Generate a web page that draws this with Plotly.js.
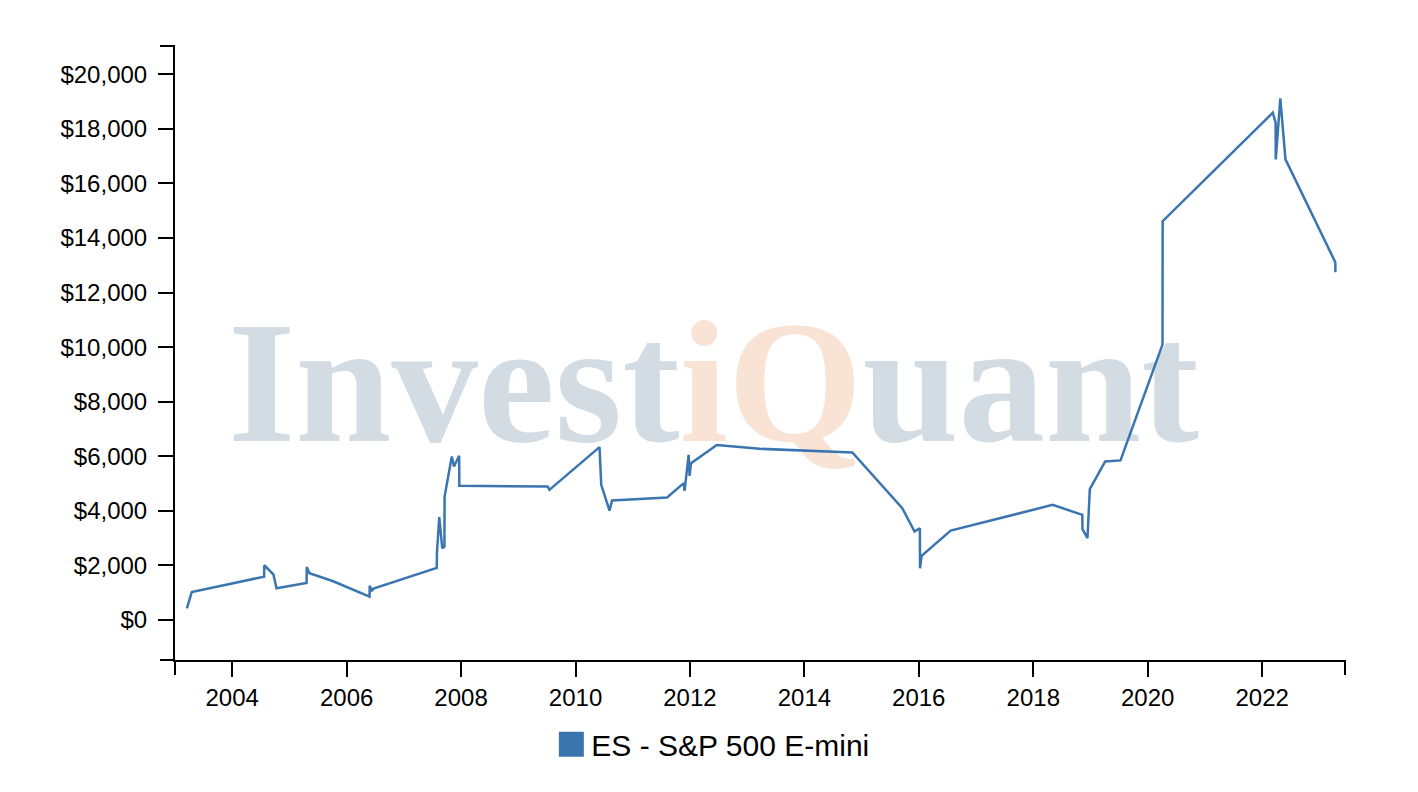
<!DOCTYPE html>
<html>
<head>
<meta charset="utf-8">
<script src="https://cdn.plot.ly/plotly-3.0.1.min.js"></script>
<style>
  html, body { margin: 0; padding: 0; background: #fff; }
  #chart { width: 1418px; height: 792px; }
</style>
</head>
<body>
<div id="chart"></div>
<script>
const seriesName = "ES - S&P 500 E-mini";

const dates = [
  "2003-03-18", "2003-04-18", "2004-07-23", "2004-07-24", "2004-09-20", "2004-10-10",
  "2005-04-20", "2005-04-21", "2005-05-08", "2005-10-03", "2006-05-27", "2006-05-28",
  "2006-06-10", "2006-06-21", "2007-07-30", "2007-07-31", "2007-08-15", "2007-09-03",
  "2007-09-17", "2007-09-18", "2007-11-03", "2007-11-17", "2007-12-20", "2007-12-21",
  "2009-07-07", "2009-07-18", "2010-06-03", "2010-06-14", "2010-08-06", "2010-08-22",
  "2011-08-08", "2011-11-23", "2011-11-28", "2011-12-24", "2011-12-30", "2012-01-08",
  "2012-06-21", "2013-03-21", "2014-11-03", "2015-09-18", "2015-12-05", "2016-01-08",
  "2016-01-09", "2016-01-19", "2016-07-23", "2018-05-05", "2018-11-10", "2018-11-11",
  "2018-12-13", "2018-12-28", "2019-04-05", "2019-07-12", "2020-04-05", "2020-04-06",
  "2022-03-10", "2022-03-28", "2022-03-29", "2022-04-27", "2022-05-30", "2023-04-13",
  "2023-04-14"
];

const equity = [
  430, 1028, 1589, 2007, 1677, 1163,
  1358, 1945, 1713, 1431, 855, 1259,
  1064, 1149, 1908, 2448, 3769, 2631,
  2690, 4525, 5993, 5626, 6019, 4918,
  4892, 4771, 6338, 4955, 4011, 4378,
  4488, 5017, 4734, 6055, 5285, 5750,
  6411, 6276, 6140, 4099, 3241, 3365,
  1897, 2349, 3277, 4221, 3854, 3328,
  2998, 4796, 5810, 5850, 10093, 14618,
  18596, 18229, 16882, 19121, 16882, 13113,
  12746
];

const yTickValues = [0, 2000, 4000, 6000, 8000, 10000, 12000, 14000, 16000, 18000, 20000];
const yTickLabels = ["$0", "$2,000", "$4,000", "$6,000", "$8,000", "$10,000",
                     "$12,000", "$14,000", "$16,000", "$18,000", "$20,000"];
const xTickValues = ["2004-01-01", "2006-01-01", "2008-01-01", "2010-01-01", "2012-01-01",
                     "2014-01-01", "2016-01-01", "2018-01-01", "2020-01-01", "2022-01-01"];
const xTickLabels = ["2004", "2006", "2008", "2010", "2012", "2014", "2016", "2018", "2020", "2022"];

const lineColor = "#3a75b0";
const axisFont = { family: "Liberation Sans, Arial, Helvetica, sans-serif", size: 24, color: "#000" };

const traces = [
  {
    x: dates, y: equity, type: "scatter", mode: "lines",
    line: { color: lineColor, width: 2.5 },
    showlegend: false, hoverinfo: "x+y"
  },
  {
    x: [null], y: [null], type: "scatter", mode: "markers",
    name: seriesName,
    marker: { symbol: "square", size: 16, color: lineColor },
    showlegend: true
  }
];

const plotW = 1170, plotH = 614;
const tk = 15;

const layout = {
  width: 1418, height: 792,
  margin: { l: 175, r: 73, t: 46, b: 132 },
  paper_bgcolor: "#fff", plot_bgcolor: "#fff",
  showlegend: true,
  legend: {
    orientation: "h", x: 0.4597, xanchor: "center", y: -0.095, yanchor: "top",
    font: { family: "Liberation Sans, Arial, Helvetica, sans-serif", size: 30, color: "#000" },
    bgcolor: "rgba(0,0,0,0)"
  },
  xaxis: {
    type: "date",
    range: ["2003-01-01", "2023-06-14"],
    tickvals: xTickValues, ticktext: xTickLabels,
    showgrid: false, zeroline: false,
    showline: true, linecolor: "#000", linewidth: 2,
    ticks: "outside", ticklen: tk, tickwidth: 2, tickcolor: "#000",
    tickfont: axisFont
  },
  yaxis: {
    range: [-1465, 21037],
    tickvals: yTickValues, ticktext: yTickLabels,
    showgrid: false, zeroline: false,
    showline: true, linecolor: "#000", linewidth: 2,
    ticks: "outside", ticklen: tk, tickwidth: 2, tickcolor: "#000",
    tickfont: axisFont, ticklabelstandoff: 6
  },
  shapes: [
    { type: "line", xref: "paper", yref: "paper", x0: -tk / plotW, x1: 0, y0: 1, y1: 1,
      line: { color: "#000", width: 2 } },
    { type: "line", xref: "paper", yref: "paper", x0: -tk / plotW, x1: 0, y0: 0, y1: 0,
      line: { color: "#000", width: 2 } },
    { type: "line", xref: "paper", yref: "paper", x0: 0, x1: 0, y0: 0, y1: -tk / plotH,
      line: { color: "#000", width: 2 } },
    { type: "line", xref: "paper", yref: "paper", x0: 1, x1: 1, y0: 0, y1: -tk / plotH,
      line: { color: "#000", width: 2 } }
  ],
  annotations: [
    {
      xref: "paper", yref: "paper", x: 0.4600, y: 0.4520,
      xanchor: "center", yanchor: "middle", showarrow: false,
      text: 'Invest<span style="color:#f8e3d5">iQ</span>uant',
      font: { family: "Liberation Serif, Times New Roman, serif", size: 173, color: "#d4dce3", weight: 700 }
    }
  ]
};

Plotly.newPlot("chart", traces, layout, { displayModeBar: false, staticPlot: true }).then(function () {
  document.querySelectorAll(".legendpoints path.scatterpts").forEach(function (p) {
    p.setAttribute("d", "M-12.5,-12.5H12.5V12.5H-12.5Z");
  });
  // put the watermark behind the data line
  var ann = document.querySelector("g.annotation");
  var bg = document.querySelector(".main-svg .bglayer");
  if (ann && bg) bg.parentNode.insertBefore(ann, bg.nextSibling);
});
</script>
</body>
</html>
